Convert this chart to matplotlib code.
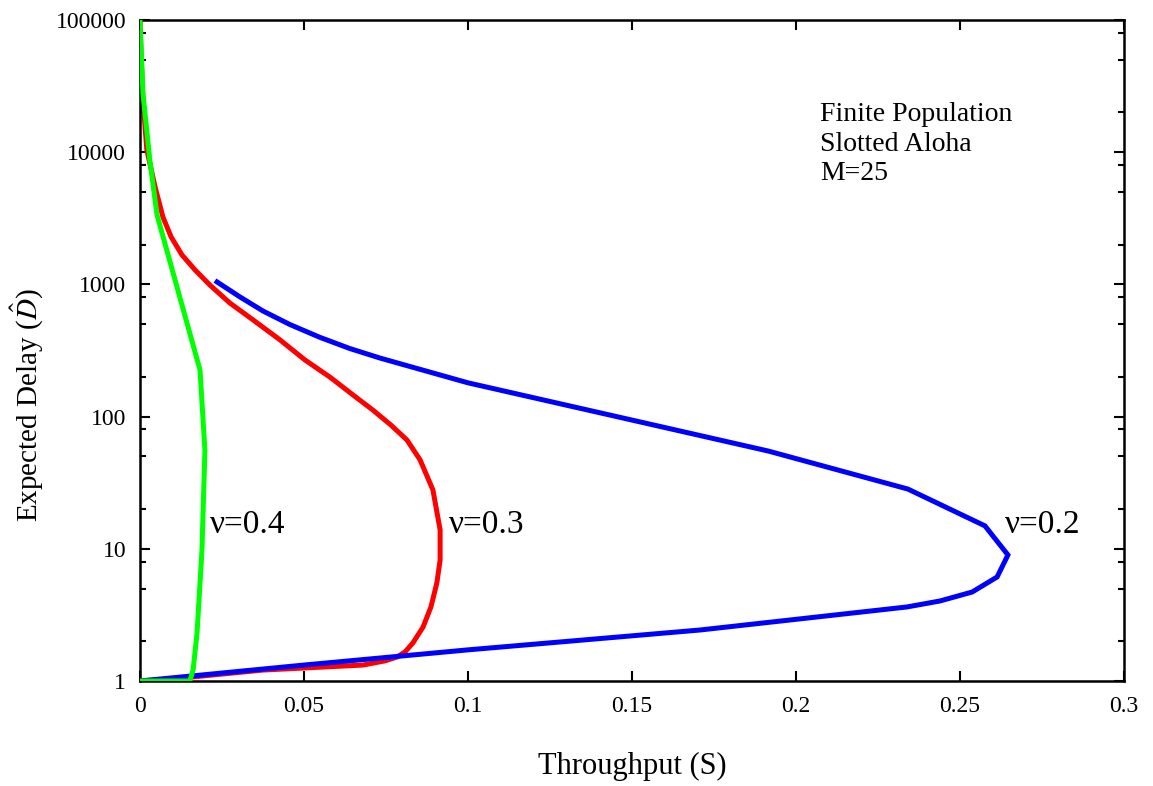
import matplotlib
matplotlib.use("Agg")
import matplotlib.pyplot as plt
from matplotlib.ticker import FixedLocator, FixedFormatter, LogLocator, NullFormatter
import numpy as np

plt.rcParams['font.family'] = ['Liberation Serif', 'DejaVu Serif']
plt.rcParams['mathtext.fontset'] = 'stix'

# ---------------------------------  data  ---------------------------------
# nu = 0.2
s_02 = [0, 0.05, 0.1, 0.1707, 0.2338, 0.2439, 0.2537, 0.2613, 0.2646, 0.2576,
        0.2341, 0.1915, 0.1, 0.0732, 0.064, 0.0549, 0.0457, 0.0375, 0.0305, 0.0235]
d_02 = [1, 1.32, 1.72, 2.43, 3.63, 4.03, 4.71, 6.12, 8.98, 14.9,
        28.3, 54.9, 180, 277, 327, 397, 497, 629, 803, 1043]

# nu = 0.3
s_03 = [0, 0.0122, 0.0375, 0.068, 0.0747, 0.0784, 0.0808, 0.0832, 0.0863, 0.0887,
        0.0905, 0.0915, 0.0915, 0.0893, 0.0854, 0.0814, 0.0765, 0.0710, 0.0649,
        0.0579, 0.0503, 0.0427, 0.0345, 0.0274, 0.0213, 0.0168, 0.0128, 0.0095,
        0.0070, 0.0046, 0.0021, 0.0009, 0.0003, 0.0]
d_03 = [1, 1.05, 1.21, 1.32, 1.42, 1.52, 1.66, 1.94, 2.56, 3.63,
        5.51, 8.22, 13.9, 27.9, 47, 66.5, 86.3, 112, 146,
        199, 268, 380, 538, 723, 989, 1285, 1670, 2284,
        3230, 5460, 10400, 24800, 59000, 100000]

# nu = 0.4
s_04 = [0, 0.0152, 0.0162, 0.0174, 0.0189, 0.0198, 0.0183, 0.0052, 0.003,
        0.0009, 0.0]
d_04 = [1, 1.0, 1.21, 2.31, 9.8, 55.6, 225, 3350, 8730,
        28000, 100000]

x_ticks = [0, 0.05, 0.1, 0.15, 0.2, 0.25, 0.3]
x_labels = ['0', '0.05', '0.1', '0.15', '0.2', '0.25', '0.3']
y_ticks = [1, 10, 100, 1000, 10000, 100000]
y_labels = ['1', '10', '100', '1000', '10000', '100000']

# ---------------------------------  figure  ---------------------------------
fig = plt.figure(figsize=(11.53, 7.86), dpi=100)
ax = fig.add_axes([0.1214, 0.1336, 0.8535, 0.841])

ax.plot(s_02, d_02, color='#0000ff', lw=3.6, solid_joinstyle='miter', zorder=3)
ax.plot(s_03, d_03, color='#ff0000', lw=3.6, zorder=2)
ax.plot(s_04, d_04, color='#00ff00', lw=3.6, zorder=4)

ax.set_yscale('log')
ax.set_xlim(0, 0.3)
ax.set_ylim(1, 100000)

ax.xaxis.set_major_locator(FixedLocator(x_ticks))
ax.xaxis.set_major_formatter(FixedFormatter(x_labels))
ax.yaxis.set_major_locator(FixedLocator(y_ticks))
ax.yaxis.set_major_formatter(FixedFormatter(y_labels))
ax.yaxis.set_minor_locator(LogLocator(base=10, subs=[2, 5, 8]))
ax.yaxis.set_minor_formatter(NullFormatter())

ax.tick_params(which='both', direction='in', top=True, right=True,
               labelsize=17, width=1.5, pad=10)
ax.tick_params(which='major', length=7)
ax.tick_params(which='minor', length=4)
ax.tick_params(axis='x', pad=11)
for sp in ax.spines.values():
    sp.set_linewidth(1.8)

ax.set_xlabel('Throughput (S)', fontsize=22, va='center')
ax.set_ylabel(r'Expected Delay ($\hat{D}$)', fontsize=21, va='center')
ax.xaxis.set_label_coords(0.5, -0.1286)
ax.yaxis.set_label_coords(-0.115, 0.4175)

# curve labels
ax.text(0.0213, 15.1, r'ν=0.4', fontsize=24, va='center', ha='left')
ax.text(0.0942, 15.1, r'ν=0.3', fontsize=24, va='center', ha='left')
ax.text(0.2637, 15.1, r'ν=0.2', fontsize=24, va='center', ha='left')

ax.text(0.2073, 24000, 'Finite Population\nSlotted Aloha\nM=25', fontsize=20,
        va='top', ha='left', linespacing=1.25)

fig.savefig('out.png', dpi=100)
